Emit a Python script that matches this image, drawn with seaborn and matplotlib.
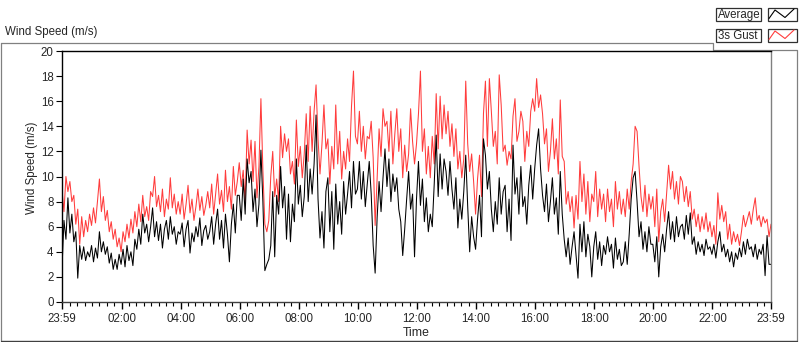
import numpy as np
import pandas as pd
import matplotlib
matplotlib.use("Agg")
import matplotlib.pyplot as plt
import seaborn as sns
from matplotlib.patches import Rectangle

# ── Data: one value every 4 minutes, 23:59 -> 23:59 (one row per hour) ──
minutes = np.arange(0, 1441, 4)

gust = [
    8.9, 7.2, 10.0, 8.8, 9.6, 8.0, 8.5, 6.2, 7.4, 4.6, 6.8, 5.2, 6.5, 5.6, 7.0,
    6.1, 7.5, 6.3, 8.0, 9.8, 7.2, 8.4, 6.5, 7.3, 5.6, 6.4, 5.0, 5.8, 4.4, 5.1,
    4.0, 5.6, 4.8, 6.2, 5.1, 6.6, 5.5, 7.2, 6.0, 7.8, 6.4, 8.5, 6.8, 7.6, 6.5,
    8.8, 8.4, 10.0, 7.6, 8.5, 7.2, 9.0, 6.8, 8.2, 7.4, 9.9, 7.5, 8.6, 7.0, 8.0,
    7.0, 8.6, 6.6, 7.8, 9.3, 7.1, 8.2, 6.5, 7.6, 9.0, 7.3, 8.4, 6.9, 7.7, 8.8,
    7.5, 9.4, 7.0, 8.6, 10.2, 7.8, 8.9, 7.2, 10.5, 8.0, 9.2, 7.4, 10.8, 8.5, 9.6,
    11.1, 9.2, 10.5, 8.0, 13.7, 11.0, 12.9, 9.6, 12.8, 8.3, 10.8, 16.2, 10.5, 6.2, 5.6,
    6.5, 10.0, 12.0, 8.4, 9.8, 8.0, 14.0, 11.5, 13.4, 12.0, 13.0, 10.2, 11.2, 9.4, 14.5,
    10.8, 12.4, 9.9, 11.8, 15.0, 11.2, 15.6, 12.0, 15.2, 17.3, 13.0, 10.2, 12.6, 15.7, 12.2,
    13.0, 9.4, 12.4, 10.6, 15.7, 11.0, 13.6, 9.8, 12.0, 10.6, 13.0, 11.2, 15.6, 18.4, 13.2,
    12.6, 15.2, 12.0, 14.0, 11.4, 13.2, 13.0, 14.4, 11.5, 6.1, 9.8, 13.8, 11.6, 15.4, 14.0,
    14.4, 12.0, 15.2, 11.0, 13.4, 15.4, 12.0, 13.8, 9.9, 12.5, 10.4, 11.8, 15.4, 12.8, 11.0,
    12.6, 15.0, 18.4, 12.0, 13.8, 10.2, 12.4, 9.9, 13.2, 11.0, 16.6, 12.2, 16.4, 13.0, 15.7,
    13.4, 15.2, 12.4, 14.2, 11.6, 13.8, 10.6, 12.0, 9.9, 11.4, 17.6, 12.6, 10.4, 11.8, 9.6,
    7.0, 9.8, 11.7, 8.4, 15.0, 17.6, 12.4, 17.8, 15.2, 12.4, 13.6, 11.0, 18.1, 15.7, 12.0,
    12.5, 10.9, 12.0, 11.4, 14.8, 16.2, 12.8, 13.6, 15.2, 14.4, 11.2, 13.6, 12.4, 15.2, 16.2,
    15.2, 17.8, 15.5, 16.5, 15.0, 12.6, 13.8, 10.4, 12.0, 14.6, 11.4, 13.0, 10.2, 16.1, 11.6,
    11.2, 7.8, 8.8, 7.2, 8.4, 5.9, 8.5, 6.6, 11.2, 8.0, 10.2, 7.0, 9.6, 6.4, 8.6,
    8.0, 10.4, 6.8, 9.0, 7.4, 8.6, 6.4, 9.0, 7.2, 8.2, 6.0, 9.6, 7.4, 8.8, 7.0,
    8.2, 6.8, 9.0, 7.4, 9.6, 11.0, 14.0, 13.6, 10.8, 8.4, 7.2, 9.3, 6.8, 8.6, 7.4,
    8.4, 6.0, 9.0, 4.8, 7.2, 8.2, 6.4, 8.6, 10.9, 9.0, 10.4, 8.2, 9.6, 7.8, 10.0,
    9.6, 8.0, 9.2, 7.6, 8.8, 6.6, 7.4, 6.0, 7.0, 5.6, 6.8, 5.8, 7.1, 5.6, 6.4,
    5.2, 6.1, 4.6, 8.7, 6.6, 7.7, 6.4, 7.2, 5.0, 6.2, 4.6, 5.6, 4.8, 5.4, 4.5,
    5.6, 6.9, 6.0, 6.6, 7.2, 6.2, 7.4, 8.3, 6.5, 6.9, 6.0, 6.8, 6.3, 6.6, 5.2,
    6.2,
]

average = [
    2.7, 6.5, 5.0, 8.3, 5.5, 7.0, 4.8, 5.6, 1.9, 4.5, 3.4, 4.4, 3.3, 4.0, 3.6,
    4.5, 3.2, 4.3, 3.5, 5.6, 4.0, 4.8, 3.8, 4.4, 3.1, 3.9, 2.6, 3.4, 2.6, 3.8,
    3.0, 4.2, 2.8, 4.5, 3.3, 4.0, 2.9, 5.0, 4.2, 5.8, 4.6, 7.0, 5.5, 6.2, 4.8,
    6.0, 7.5, 5.2, 6.4, 4.9, 6.2, 4.3, 5.8, 6.5, 5.0, 6.8, 5.4, 6.0, 4.6, 5.6,
    5.4, 6.3, 4.4, 5.8, 6.5, 3.9, 5.5, 4.8, 6.0, 5.2, 6.7, 4.5, 5.7, 6.1, 5.0,
    5.6, 6.8, 4.6, 6.2, 7.4, 5.0, 6.5, 4.3, 7.0, 5.4, 3.2, 6.2, 7.8, 5.5, 8.5,
    8.5, 6.5, 9.8, 7.0, 11.4, 9.5, 10.4, 7.2, 9.0, 6.0, 7.8, 12.1, 8.0, 2.5, 3.0,
    3.4, 4.5, 8.8, 3.6, 8.5, 7.0, 10.8, 7.5, 9.2, 5.0, 8.6, 4.8, 7.8, 6.4, 11.4,
    7.8, 9.3, 6.8, 8.4, 12.5, 8.0, 10.6, 8.6, 11.0, 14.9, 8.2, 5.1, 7.2, 4.3, 8.8,
    9.9, 5.6, 8.8, 4.2, 9.4, 6.2, 8.0, 5.4, 9.6, 7.0, 8.6, 10.4, 7.5, 11.2, 8.6,
    9.0, 11.2, 8.2, 10.4, 7.6, 9.4, 11.2, 8.6, 4.5, 2.3, 6.7, 9.6, 7.2, 9.9, 12.2,
    9.2, 11.4, 8.0, 10.2, 8.8, 9.9, 7.4, 6.4, 3.7, 5.8, 8.2, 10.4, 7.4, 8.6, 3.6,
    8.2, 11.2, 7.7, 9.8, 6.4, 8.3, 5.6, 7.0, 6.0, 9.4, 13.3, 8.4, 11.8, 9.0, 11.4,
    10.4, 8.5, 11.2, 9.0, 7.4, 9.9, 5.9, 8.2, 6.6, 8.8, 11.7, 7.6, 4.0, 6.8, 5.2,
    4.2, 6.6, 8.5, 5.2, 13.0, 11.7, 9.0, 10.4, 7.4, 5.6, 8.0, 6.2, 9.9, 7.0, 8.8,
    9.3, 5.6, 8.2, 4.9, 12.5, 8.6, 9.9, 7.0, 10.8, 7.6, 8.4, 6.2, 9.3, 10.9, 8.2,
    10.6, 12.5, 13.8, 10.6, 8.5, 7.2, 9.4, 6.4, 8.0, 9.9, 7.0, 8.3, 5.4, 10.4, 7.0,
    5.0, 3.6, 5.1, 3.0, 4.4, 5.6, 3.8, 1.9, 6.2, 4.0, 6.4, 3.6, 5.4, 4.4, 2.0,
    4.4, 5.6, 3.4, 4.8, 2.9, 4.5, 3.8, 5.2, 4.0, 4.6, 2.7, 5.1, 3.4, 4.2, 2.9,
    3.2, 4.8, 3.0, 5.4, 8.2, 9.9, 10.4, 8.0, 5.2, 6.4, 4.2, 5.6, 4.0, 6.0, 4.6,
    4.6, 3.2, 5.2, 2.0, 4.4, 5.4, 4.0, 5.8, 7.2, 5.0, 6.4, 4.8, 6.8, 5.2, 6.0,
    6.2, 5.0, 6.9, 5.4, 7.1, 4.6, 5.2, 3.8, 4.8, 4.0, 4.6, 3.7, 5.0, 4.2, 4.4,
    3.8, 4.6, 3.5, 4.8, 5.6, 4.0, 4.6, 3.6, 4.2, 3.2, 4.0, 2.8, 3.9, 3.4, 4.3,
    3.6, 4.8, 3.8, 5.0, 4.2, 4.4, 3.6, 4.6, 3.4, 4.2, 3.8, 4.6, 2.1, 5.3, 3.0,
    3.0,
]

tick_minutes = [0, 121, 241, 361, 481, 601, 721, 841, 961, 1081, 1201, 1321, 1440]
tick_labels = ["23:59", "02:00", "04:00", "06:00", "08:00", "10:00", "12:00",
               "14:00", "16:00", "18:00", "20:00", "22:00", "23:59"]
minor_minutes = np.arange(16, 1440, 15)
y_ticks = list(range(0, 21, 2))

df = pd.DataFrame({"Time": minutes, "3s Gust": gust, "Average": average})

sns.set_style("white")
plt.rcParams["font.family"] = ["Liberation Sans", "DejaVu Sans"]
FS = 8.3
GREY = "#808080"
RED = "#ff3c3c"

fig = plt.figure(figsize=(8, 3.42), dpi=100)
fig.patch.set_facecolor("white")

# ── Panel chrome drawn in pixel coordinates ──
bg = fig.add_axes([0, 0, 1, 1], zorder=0)
bg.set_xlim(0, 800)
bg.set_ylim(342, 0)
bg.axis("off")
bg.plot([0.5, 712.5, 712.5, 796.5, 796.5, 0.5, 0.5],
        [42.5, 42.5, 49.5, 49.5, 340.5, 340.5, 42.5], color=GREY, lw=0.9)
bg.plot([0.5, 796.5], [340.5, 340.5], color="#404040", lw=0.9)
bg.text(5, 35.5, "Wind Speed (m/s)", fontsize=FS, va="baseline", ha="left")

legend_rows = [("Average", "black", 7.5), ("3s Gust", RED, 28.5)]
for name, col, top in legend_rows:
    bg.add_patch(Rectangle((715.5, top), 45, 13.5, fill=False, ec="#303030", lw=0.9))
    bg.add_patch(Rectangle((767.5, top), 29, 13.5, fill=False, ec="#303030", lw=0.9))
    bg.text(718, top + 10.8, name, fontsize=FS, va="baseline", ha="left")
    bg.plot([769, 775, 785, 794], [top + 11, top + 2.5, top + 10, top + 1.5],
            color=col, lw=0.8)

# ── Chart ──
ax = fig.add_axes([62 / 800, 40 / 342, 709 / 800, 251 / 342], zorder=1)
sns.lineplot(data=df, x="Time", y="3s Gust", color=RED, lw=0.75, ax=ax)
sns.lineplot(data=df, x="Time", y="Average", color="black", lw=0.75, ax=ax)

ax.set_xlim(0, 1440)
ax.set_ylim(0, 20)
ax.set_xticks(tick_minutes)
ax.set_xticklabels(tick_labels)
ax.set_xticks(minor_minutes, minor=True)
ax.set_yticks(y_ticks)
ax.tick_params(axis="x", which="major", length=5, width=1.0, direction="out",
               labelsize=FS, pad=3, bottom=True, color="black")
ax.tick_params(axis="x", which="minor", length=3, width=0.8, direction="out",
               bottom=True, color="black")
ax.tick_params(axis="y", which="major", length=4, width=0.8, direction="out",
               labelsize=FS, pad=2, left=True, color="black")

for side in ["left", "top"]:
    ax.spines[side].set_color("black")
    ax.spines[side].set_linewidth(1.0)
ax.spines["right"].set_color(GREY)
ax.spines["right"].set_linewidth(1.0)
ax.spines["bottom"].set_color("#404040")
ax.spines["bottom"].set_linewidth(1.0)

ax.set_xlabel("Time", fontsize=FS + 0.5)
ax.set_ylabel("Wind Speed (m/s)", fontsize=FS)
ax.xaxis.set_label_coords(0.5, -0.10)
ax.yaxis.set_label_coords(-0.034, 0.534)

fig.savefig("out.png", dpi=100, facecolor="white")
